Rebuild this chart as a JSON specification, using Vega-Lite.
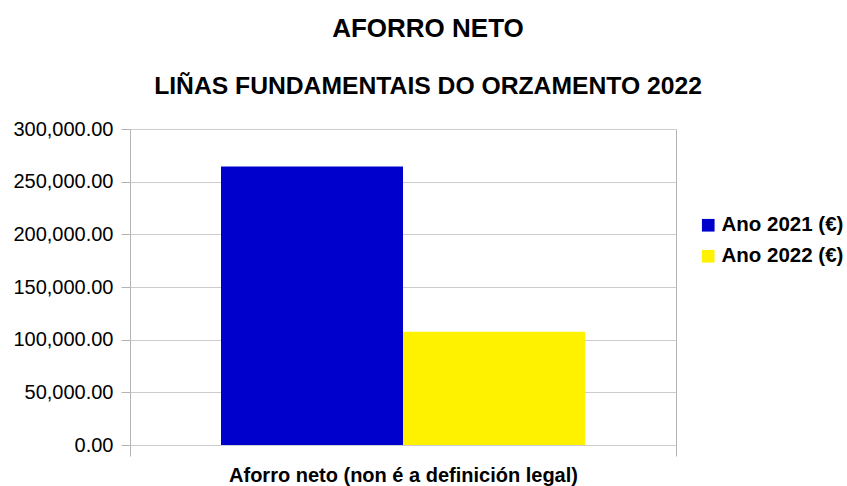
{
  "$schema": "https://vega.github.io/schema/vega-lite/v6.json",
  "width": 546,
  "height": 316,
  "autosize": {"type": "none"},
  "padding": {"left": 130, "top": 129, "right": 171, "bottom": 41},
  "background": "white",
  "title": {
    "text": "AFORRO NETO",
    "subtitle": "LIÑAS FUNDAMENTAIS DO ORZAMENTO 2022",
    "font": "Liberation Sans",
    "fontSize": 26,
    "fontWeight": "bold",
    "color": "black",
    "subtitleFont": "Liberation Sans",
    "subtitleFontSize": 24.7,
    "subtitleFontWeight": "bold",
    "subtitleColor": "black",
    "subtitlePadding": 32,
    "anchor": "middle",
    "frame": "group",
    "dx": 25,
    "offset": 20
  },
  "data": {
    "values": [
      {"categoria": "Aforro neto (non é a definición legal)", "serie": "Ano 2021 (€)", "valor": 264500},
      {"categoria": "Aforro neto (non é a definición legal)", "serie": "Ano 2022 (€)", "valor": 107400}
    ]
  },
  "mark": {"type": "bar"},
  "encoding": {
    "x": {
      "field": "categoria",
      "type": "nominal",
      "scale": {"paddingInner": 0, "paddingOuter": 0},
      "axis": {
        "title": null,
        "labelAngle": 0,
        "labelFont": "Liberation Sans",
        "labelFontSize": 20,
        "labelFontWeight": "bold",
        "labelColor": "black",
        "labelLimit": 1000,
        "labelPadding": 9,
        "tickBand": "extent",
        "ticks": true,
        "tickSize": 11,
        "tickColor": "#b3b3b3",
        "grid": true,
        "gridColor": "#b3b3b3",
        "domain": false
      }
    },
    "xOffset": {
      "field": "serie",
      "type": "nominal",
      "scale": {"paddingInner": 0, "paddingOuter": 0.5}
    },
    "y": {
      "field": "valor",
      "type": "quantitative",
      "scale": {"domain": [0, 300000], "nice": false},
      "axis": {
        "title": null,
        "values": [0, 50000, 100000, 150000, 200000, 250000, 300000],
        "format": ",.2f",
        "labelFont": "Liberation Sans",
        "labelFontSize": 20,
        "labelColor": "black",
        "labelPadding": 8,
        "tickSize": 9,
        "tickColor": "#b3b3b3",
        "gridColor": "#cccccc",
        "domain": false
      }
    },
    "color": {
      "field": "serie",
      "type": "nominal",
      "scale": {"domain": ["Ano 2021 (€)", "Ano 2022 (€)"], "range": ["#0000cc", "#fff200"]},
      "legend": {
        "title": null,
        "orient": "none",
        "legendX": 568,
        "legendY": 86,
        "symbolType": "square",
        "symbolSize": 160,
        "symbolStrokeWidth": 0,
        "symbolOpacity": 1,
        "labelFont": "Liberation Sans",
        "labelFontSize": 20.5,
        "labelFontWeight": "bold",
        "labelColor": "black",
        "labelOffset": 3,
        "rowPadding": 10
      }
    }
  },
  "config": {
    "view": {"stroke": null}
  }
}
